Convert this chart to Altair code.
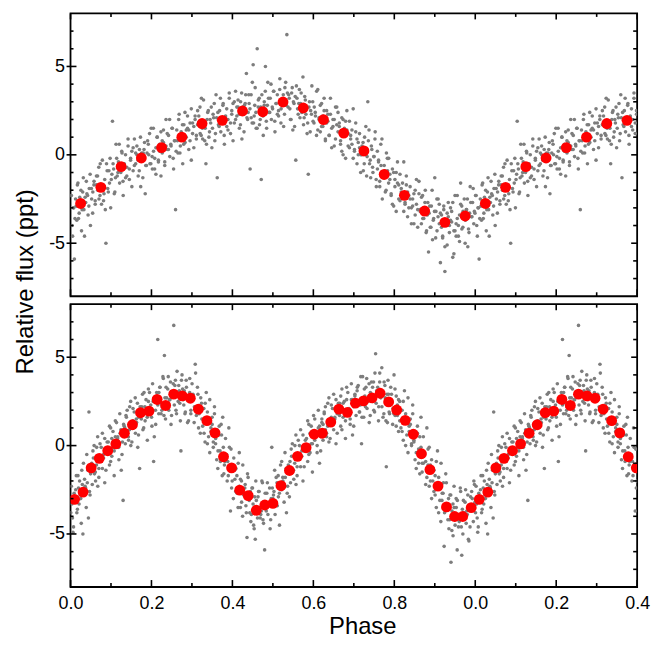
import altair as alt
import pandas as pd

# ---------------- data ----------------
TOP_RED_PHASE = [0.025, 0.075, 0.125, 0.175, 0.225, 0.275, 0.325, 0.375, 0.425, 0.475,
                 0.525, 0.575, 0.625, 0.675, 0.725, 0.775, 0.825, 0.875, 0.925, 0.975]
TOP_RED_FLUX = [-2.75, -1.84, -0.67, -0.18, 0.41, 1.00, 1.77, 1.95, 2.48, 2.44,
                2.99, 2.65, 1.99, 1.23, 0.22, -1.11, -2.29, -3.18, -3.82, -3.46]

BOT_RED_PHASE = [0.010, 0.031, 0.051, 0.071, 0.092, 0.112, 0.133, 0.153, 0.173, 0.194,
                 0.214, 0.235, 0.255, 0.276, 0.296, 0.316, 0.337, 0.357, 0.378, 0.398,
                 0.418, 0.439, 0.459, 0.480, 0.500, 0.520, 0.541, 0.561, 0.582, 0.602,
                 0.622, 0.643, 0.663, 0.684, 0.704, 0.724, 0.745, 0.765, 0.786, 0.806,
                 0.827, 0.847, 0.867, 0.888, 0.908, 0.929, 0.949, 0.969, 0.990]
BOT_RED_FLUX = [-3.04, -2.63, -1.26, -0.72, -0.29, 0.10, 0.70, 1.18, 1.86, 1.95,
                2.61, 2.27, 2.91, 2.81, 2.68, 2.06, 1.41, 0.72, -0.63, -1.26,
                -2.52, -2.83, -3.66, -3.36, -3.27, -2.27, -1.41, -0.61, -0.12, 0.64,
                0.70, 1.33, 2.06, 1.88, 2.40, 2.53, 2.70, 2.96, 2.47, 2.01,
                1.43, 0.64, -0.46, -1.36, -2.29, -3.47, -4.01, -4.01, -3.51]

# gray measurements, one string per phase bin (bins start at 0)
TOP_GRAY_BIN = 0.025
TOP_GRAY = [
    "-2.7 -3.5 -1.9 -3.2 -2.3 -4.0 -3.0 -5.9 -2.5 -3.7 -1.6 -3.3 -2.8 -4.3 -2.1 -3.1 -2.4",
    "-2.9 -1.7 -3.6 -2.4 -2.0 -3.1 -1.3 -4.6 -2.7 -2.2 -3.4 -1.9 -4.0 -2.5 -2.1 -1.5 -2.8",
    "-1.5 -2.3 -2.9 -1.1 -1.9 -3.3 -1.7 -2.6 -1.2 -2.0 -2.5 -0.5 -2.8 -1.8 -2.2 -3.1",
    "-1.7 -1.2 -0.7 -2.3 -1.9 -0.3 -2.6 -1.4 -5.0 -0.9 -2.1 -1.6 -3.0 -1.1 -0.5 -2.2 -1.3",
    "-0.5 -1.9 -0.9 -0.2 -1.4 1.9 -0.8 -2.1 0.6 -1.2 -0.4 -1.6 -1.0 0.1 -2.3 -0.7 -1.3",
    "-0.2 -1.0 0.6 -0.7 0.2 -1.5 -0.5 0.0 -1.2 0.9 -0.8 -0.3 -1.8 0.4 -0.6 0.1",
    "-0.7 0.5 -1.4 -0.2 0.2 -0.9 0.9 -0.5 0.0 -1.2 0.3 -1.8 -0.3 0.1 0.7 -0.6",
    "0.5 -0.3 -0.9 1.0 0.1 -1.3 0.3 -2.2 -0.6 0.8 0.0 -0.5 1.5 -0.8 0.2 -0.2 -1.1",
    "0.1 0.6 1.2 -0.5 -0.1 1.5 -0.8 0.4 1.0 -0.3 0.2 -1.2 0.8 1.4 -0.4 0.5",
    "1.0 -0.4 0.6 1.3 0.1 0.7 -0.6 2.0 0.3 1.1 -0.1 0.5 1.5 -0.8 0.8 0.2",
    "1.2 0.3 2.0 0.6 1.5 -0.2 0.8 -3.1 1.4 0.1 2.3 0.5 1.0 -0.5 1.7 0.7 1.4",
    "0.8 2.0 0.1 1.3 1.7 0.6 2.4 1.0 1.5 0.3 1.8 -0.3 1.2 1.6 2.2 0.9",
    "2.2 1.4 0.8 2.6 1.8 0.4 2.0 1.1 2.5 1.7 1.2 3.2 0.9 1.9 1.5 0.6",
    "1.7 2.2 2.7 1.1 1.5 3.1 0.8 -0.5 2.0 2.5 1.3 1.8 0.4 2.3 2.9 1.2 2.1",
    "2.4 1.0 2.0 2.7 1.5 2.1 0.8 3.4 -1.3 1.7 2.5 1.3 1.9 2.9 0.6 2.2 1.6",
    "2.4 1.6 3.2 1.9 2.8 1.1 2.1 2.6 1.4 3.5 1.8 2.3 0.8 3.0 2.0 2.7",
    "2.0 3.2 1.2 2.5 2.9 1.8 3.6 2.2 2.7 1.5 3.0 0.9 2.4 2.8 3.4 2.1",
    "3.1 2.3 1.7 3.5 2.7 1.3 2.9 4.6 2.0 3.4 2.6 2.1 4.1 1.8 2.8 2.4 1.5",
    "2.4 2.9 -0.8 3.4 1.8 5.1 2.2 3.8 1.5 6.0 2.7 3.2 2.0 -1.4 2.5 1.1 3.0 3.6 1.9 2.8",
    "3.1 1.7 2.7 3.4 2.2 2.8 5.0 1.5 4.1 2.4 3.2 2.0 2.6 3.6 1.3 2.9 2.3",
    "3.2 2.4 4.0 2.7 3.6 1.9 2.9 3.4 2.2 4.3 2.6 3.1 1.6 3.8 2.8 3.5",
    "2.5 3.7 1.8 3.0 3.4 2.3 4.1 6.8 2.7 3.2 2.0 3.5 1.4 2.9 3.3 3.9 2.6",
    "3.4 2.6 2.0 3.8 3.0 1.6 -0.3 3.2 2.3 3.7 2.9 2.4 4.4 2.1 3.1 2.7 1.8",
    "2.9 2.1 3.5 2.6 1.7 3.3 2.3 1.2 -1.1 3.0 2.5 3.9 1.9 2.7 2.2 3.6 1.4",
    "2.7 1.3 2.3 3.0 1.8 2.4 1.1 3.7 2.0 2.8 1.6 2.2 3.2 0.9 2.5 1.9",
    "2.1 1.3 2.9 1.6 2.5 0.8 1.8 2.3 1.1 3.2 1.5 2.0 0.5 2.7 1.7 2.4",
    "1.1 2.3 0.4 1.6 2.0 0.9 2.7 1.3 1.8 0.6 2.1 0.0 1.5 1.9 2.5 1.2",
    "1.6 0.8 0.2 2.0 1.2 -0.2 1.4 0.5 1.9 1.1 0.6 2.6 0.3 1.3 0.9 0.0",
    "0.4 0.9 1.4 -0.2 0.2 1.8 -0.5 0.7 1.2 0.0 0.5 -0.9 1.0 1.6 -0.1 0.8",
    "0.4 -1.0 0.0 0.7 -0.5 0.1 -1.2 3.0 1.4 -0.3 0.5 -0.7 -0.1 0.9 -1.4 0.2 -0.4",
    "-0.5 -1.3 0.3 -1.0 -0.1 1.3 -1.8 -0.8 -0.3 -1.5 0.6 0.9 -1.1 -0.6 -2.1 0.1 -0.9 -0.2",
    "-1.8 -0.6 -2.5 -1.3 -0.9 -2.0 -0.2 -1.6 -1.1 -2.3 -0.8 -2.9 -1.4 -1.0 -0.4 -1.7",
    "-1.4 -2.2 -2.8 -1.0 -1.8 -3.2 -1.6 -2.5 -1.1 -1.9 -2.4 -0.4 -2.7 -1.7 -2.1 -3.0",
    "-2.6 -2.1 -1.6 -3.2 -2.8 -1.2 -3.5 -2.3 -1.8 -3.0 -2.5 -3.9 -2.0 -1.4 -3.1 -2.2",
    "-2.5 -3.9 -2.9 -2.2 -3.4 -2.8 -4.1 -1.5 -3.2 -2.4 -3.6 -3.0 -2.0 -4.3 -2.7 -3.3",
    "-3.1 -3.9 -2.3 -3.6 -2.7 -4.4 -3.4 -5.5 -2.9 -4.1 -2.0 -3.7 -3.2 -4.7 -2.5 -3.5 -2.8",
    "-4.1 -2.9 -4.8 -3.6 -1.3 -3.2 -4.3 -2.5 -3.9 -6.1 -3.4 -4.6 -3.1 -5.2 -3.7 -3.3 -2.7 -4.0",
    "-3.3 -4.1 -4.7 -2.9 -6.6 -3.7 -5.1 -3.5 -4.4 -3.0 -3.8 -5.8 -4.3 -2.3 -4.6 -3.6 -4.0 -4.9",
    "-3.7 -3.2 -2.7 -5.6 -4.3 -3.9 -2.3 -4.6 -3.4 -1.6 -2.9 -4.1 -3.6 -5.0 -3.1 -2.5 -4.2 -3.3",
    "-2.8 -4.2 -3.2 -2.5 -3.7 -3.1 -5.2 -4.4 -1.8 -3.5 -2.7 -3.9 -3.3 -2.3 -4.6 -3.0 -3.6",
]

BOT_GRAY_BIN = 1.0 / 49
BOT_GRAY = [
    "-2.6 -3.6 -2.0 -3.2 -2.3 -4.1 -4.6 -2.9 -2.5 -3.8 -1.7 -3.3 -2.8 -4.4 -2.2",
    "-3.1 -1.7 -3.6 -2.4 -2.0 -3.0 -1.4 -5.0 -2.8 -2.3 -3.5 -2.1 -4.1 -2.6 -1.6",
    "-1.0 -1.9 -2.4 -0.5 -1.4 1.9 -2.8 -1.2 -2.2 -0.7 -1.6 -2.0 -0.1 -2.3 -1.3",
    "-1.0 -0.3 0.0 -1.5 -1.1 0.5 -1.8 -0.6 -0.1 -1.3 -0.7 -2.1 -0.4 0.2",
    "0.1 -0.9 0.7 -0.5 0.4 -1.4 -0.2 0.2 -1.1 1.0 -0.6 -0.1 -1.7 0.5",
    "-0.4 1.1 -0.9 0.4 0.8 -0.3 1.4 0.0 0.5 -0.8 0.7 -1.4 0.2 1.2",
    "1.3 0.4 -0.1 1.8 0.9 -0.5 -3.1 1.1 0.1 1.6 0.7 0.3 2.2 0.0 1.0",
    "1.0 1.7 2.0 0.5 0.9 2.5 0.2 1.4 1.9 0.7 1.3 -0.1 1.6 2.2",
    "2.1 1.1 2.7 1.5 2.4 0.6 -1.3 1.8 2.2 0.9 3.0 1.4 1.9 0.3 2.5",
    "1.5 2.9 1.0 2.2 2.6 1.6 3.2 1.8 2.3 1.1 2.5 0.5 2.0 3.0",
    "3.0 2.1 1.6 3.5 -0.9 2.6 1.2 2.8 6.0 1.8 3.3 2.4 2.0 3.9 1.7 2.7",
    "2.3 3.0 3.3 1.8 2.2 3.8 5.1 1.5 2.7 3.2 2.0 2.6 1.2 2.9 3.5",
    "3.3 2.2 3.9 2.6 3.6 1.7 3.0 6.8 3.4 2.0 4.2 2.5 3.1 1.4 3.7",
    "2.3 3.7 1.8 3.0 3.4 2.4 -0.3 4.0 2.6 3.1 1.9 3.3 1.3 2.8 3.8",
    "3.2 2.3 1.8 3.7 2.8 1.4 3.0 2.0 3.5 2.6 2.2 4.1 1.9 2.9",
    "1.8 2.6 2.9 1.3 4.6 1.7 3.3 1.0 2.2 2.7 1.5 2.1 0.7 2.4 3.0",
    "1.8 0.7 2.4 1.1 2.1 0.2 1.4 1.9 0.5 2.6 1.0 1.6 -0.1 2.2",
    "0.1 1.5 -0.4 0.8 1.2 0.2 1.8 0.4 0.9 -0.3 1.1 -0.9 0.6 1.6",
    "0.1 -0.8 -1.3 0.6 -0.3 1.2 -1.7 -0.1 -1.1 0.4 -0.5 -0.9 1.0 -1.2 -0.2",
    "-1.6 -0.9 -0.6 -2.0 -1.7 -0.1 -3.7 -2.4 -1.2 -0.7 -1.9 -1.3 -2.7 -1.0 -0.4",
    "-2.0 -3.0 -1.4 -2.6 -1.7 -3.5 -2.3 -1.9 -3.2 -1.1 -2.7 -2.2 -3.8 -1.6",
    "-3.5 -2.0 -4.0 -2.8 -2.4 -3.4 -5.2 -1.8 -3.1 -2.6 -3.9 -2.4 -4.5 -2.9 -2.0",
    "-2.9 -3.8 -4.3 -2.4 -3.3 -4.7 -5.3 -3.1 -4.1 -2.6 -3.5 -3.9 -2.0 -4.2 -3.2",
    "-3.6 -2.9 -2.6 -4.1 -3.7 -2.1 -4.4 -5.9 -3.2 -2.7 -3.9 -3.3 -4.7 -3.0 -2.4",
    "-2.7 -3.7 -2.1 -3.3 -2.4 -4.2 -0.1 -3.0 -2.6 -3.9 -1.8 -3.4 -2.9 -4.5 -2.3",
    "-2.8 -1.4 -3.3 -2.1 -1.7 -2.7 -1.1 -2.5 -2.0 -3.2 -1.8 -3.8 -2.3 -1.3",
    "-0.9 -1.8 -2.3 -0.4 -1.3 -2.7 -1.1 -2.9 -2.1 -0.6 -1.5 -1.9 0.0 -2.2 -1.2",
    "-0.9 -0.2 0.1 -1.4 -1.0 0.6 -1.7 -0.5 0.0 -1.2 -0.6 -2.0 -0.3 0.3",
    "0.3 -0.7 0.9 -0.3 0.6 -1.2 0.0 0.4 -0.9 1.2 -0.4 0.1 -1.5 0.7",
    "0.0 1.4 -0.5 0.7 1.1 0.1 1.7 0.3 0.8 -0.4 1.0 -1.0 0.5 1.5",
    "1.5 0.6 0.0 2.0 1.1 -0.3 1.3 0.3 1.8 0.9 0.5 2.4 0.2 1.2",
    "1.2 1.9 2.2 0.7 1.1 2.7 0.4 1.6 2.1 0.9 1.5 0.1 1.8 2.4",
    "2.3 1.3 2.9 1.6 2.6 0.7 2.0 2.4 1.1 3.2 1.6 2.0 0.4 2.6",
    "1.7 2.8 0.9 2.4 2.5 1.4 3.3 1.9 2.1 1.2 2.6 0.6 2.2 2.9",
    "3.0 2.0 1.5 3.5 2.6 1.1 2.8 1.7 3.3 2.4 1.9 3.9 1.6 2.7",
    "2.4 3.1 3.4 1.9 2.3 0.1 3.9 1.6 2.8 3.3 2.1 2.7 1.3 3.0 3.6",
    "3.2 2.2 3.8 2.5 3.5 1.7 2.9 3.3 2.0 4.1 2.4 3.0 1.4 3.6",
    "2.5 3.6 1.9 5.2 3.1 3.3 2.2 4.1 2.7 4.4 3.0 1.8 3.4 1.4 2.9 3.7",
    "3.1 2.2 1.6 3.6 2.7 -1.2 1.3 2.9 1.8 3.3 2.5 2.1 4.0 1.7 2.8",
    "1.9 2.4 2.9 1.2 1.8 3.2 1.1 2.3 2.6 1.4 2.0 0.8 2.5 3.1",
    "1.7 0.8 2.5 1.0 2.0 0.3 1.5 1.8 0.6 2.7 1.1 1.5 0.0 2.3",
    "0.0 1.5 -0.4 0.8 1.2 0.1 1.8 0.3 0.8 -0.4 1.1 -1.0 0.5 1.6",
    "0.2 -0.8 -1.3 0.7 -0.2 -1.6 -0.1 -1.0 0.5 -0.4 -0.9 1.0 -1.1 -0.1",
    "-1.5 -1.0 -0.5 -2.2 -1.8 -0.2 -2.3 -1.1 -0.8 -2.0 -1.4 -2.8 -0.9 -0.3",
    "-2.0 -3.0 -1.3 -2.6 -1.7 -3.5 -2.2 -1.8 -3.1 -1.0 -2.7 -2.1 -3.8 -1.6",
    "-3.8 -2.4 -4.3 -3.1 -2.7 -5.7 -3.7 -2.1 -3.5 -3.0 -4.2 -2.8 -4.8 -3.3 -2.3",
    "-3.3 -4.2 -4.7 -2.8 -6.6 -3.7 -5.1 -3.5 -4.5 -3.0 -5.9 -3.9 -4.3 -2.4 -4.6 -3.6",
    "-4.2 -3.5 -3.1 -4.6 -4.2 -2.6 -6.2 -5.0 -3.8 -3.2 -4.4 -3.9 -5.3 -3.5 -2.9",
    "-3.1 -4.1 -2.5 -3.7 -2.8 -5.4 -4.6 -3.4 -3.0 -4.3 -2.2 -3.8 -3.3 -4.9 -2.7",
]

X_MAJOR = [0.0, 0.2, 0.4, 0.6, 0.8, 1.0, 1.2, 1.4]
X_MINOR = [0.1, 0.3, 0.5, 0.7, 0.9, 1.1, 1.3]
Y_MAJOR = [-5, 0, 5]
Y_MINOR = [-7, -6, -4, -3, -2, -1, 1, 2, 3, 4, 6, 7]
REPEAT_UNTIL = 0.4   # the first 0.4 of the cycle is shown again after phase 1.0

W, H = 571, 285


def repeat_cycle(df):
    rep = df[df["phase"] <= REPEAT_UNTIL + 1e-9].copy()
    rep["phase"] = rep["phase"] + 1.0
    return pd.concat([df, rep], ignore_index=True)


def gray_frame(bins, width):
    # measurements of one bin are laid across the bin and half of each neighbour
    rows = []
    for i, s in enumerate(bins):
        vals = [float(v) for v in s.split()]
        n = len(vals)
        centre = (i + 0.5) * width
        for j, v in enumerate(vals):
            p = centre + ((j + 0.5) / n - 0.5) * 2.0 * width
            p = p % 1.0
            rows.append({"phase": p, "flux": v})
    return repeat_cycle(pd.DataFrame(rows))


top_gray = gray_frame(TOP_GRAY, TOP_GRAY_BIN)
bot_gray = gray_frame(BOT_GRAY, BOT_GRAY_BIN)
top_red = repeat_cycle(pd.DataFrame({"phase": TOP_RED_PHASE, "flux": TOP_RED_FLUX}))
bot_red = repeat_cycle(pd.DataFrame({"phase": BOT_RED_PHASE, "flux": BOT_RED_FLUX}))

FONT = "Liberation Sans"
XS = alt.Scale(domain=[0, 1.4], nice=False, zero=False)
YS = alt.Scale(domain=[-8, 8], nice=False, zero=False)
XLABEL = "format(datum.value >= 0.999 ? datum.value - 1 : datum.value, '.1f')"
YLABEL = "datum.value < 0 ? '-' + format(-datum.value, 'd') : format(datum.value, 'd')"
TICK_W = 1.6


def ax(**kw):
    base = dict(domain=False, grid=False, ticks=False, tickSize=0,
                labelColor="black", labelFont=FONT, labelFontSize=18,
                titleFont=FONT, titleColor="black", titleFontWeight="normal",
                labelFlush=False, labelOverlap=False)
    base.update(kw)
    return alt.Axis(**base)


def yticks(vals, x0, x1):
    return alt.Chart(pd.DataFrame({"v": vals})).mark_rule(
        color="black", strokeWidth=TICK_W).encode(
        y=alt.Y("v:Q", scale=YS, axis=None), x=alt.value(x0), x2=alt.value(x1))


def xticks(vals, y0, y1):
    return alt.Chart(pd.DataFrame({"v": vals})).mark_rule(
        color="black", strokeWidth=TICK_W).encode(
        x=alt.X("v:Q", scale=XS, axis=None), y=alt.value(y0), y2=alt.value(y1))


def panel(gray, red, is_bottom, is_top):
    if is_bottom:
        xaxis = ax(orient="bottom", values=X_MAJOR, labelExpr=XLABEL, labelPadding=8,
                   title="Phase", titleFontSize=24, titleX=294, titleY=47,
                   titleBaseline="alphabetic", titleAlign="center")
    else:
        xaxis = None
    if is_top:
        yaxis = ax(orient="left", values=Y_MAJOR, labelExpr=YLABEL, labelPadding=6,
                   title="Relative flux (ppt)", titleFontSize=24, titleAngle=270,
                   titleX=-38, titleY=270, titleAlign="center",
                   titleBaseline="alphabetic")
    else:
        yaxis = ax(orient="left", values=Y_MAJOR, labelExpr=YLABEL, labelPadding=6,
                   title=None)

    g = alt.Chart(gray).mark_circle(size=13, color="#7d7d7d", opacity=1, clip=True).encode(
        x=alt.X("phase:Q", scale=XS, axis=xaxis),
        y=alt.Y("flux:Q", scale=YS, axis=yaxis),
    )
    r = alt.Chart(red).mark_circle(size=120, color="#ff0000", opacity=1, clip=True).encode(
        x=alt.X("phase:Q", scale=XS, axis=None),
        y=alt.Y("flux:Q", scale=YS, axis=None),
    )
    ticks = [
        yticks(Y_MAJOR, -4, 6), yticks(Y_MINOR, 0, 3),
        yticks(Y_MAJOR, W - 6, W), yticks(Y_MINOR, W - 4, W),
        xticks(X_MAJOR, 0, 6), xticks(X_MINOR, 0, 3.5),
        xticks(X_MAJOR, H - 7, H), xticks(X_MINOR, H - 4, H),
    ]
    return alt.layer(g, r, *ticks).resolve_axis(
        x="independent", y="independent").properties(width=W, height=H)


chart = alt.vconcat(
    panel(top_gray, top_red, False, True),
    panel(bot_gray, bot_red, True, False),
    spacing=8, bounds="flush",
).configure_view(stroke="black", strokeWidth=1.8).properties(
    padding={"left": 5, "top": 1, "right": 5, "bottom": 5},
    background="white",
)

chart.save("out.html", embed_options={"renderer": "svg", "actions": False})
